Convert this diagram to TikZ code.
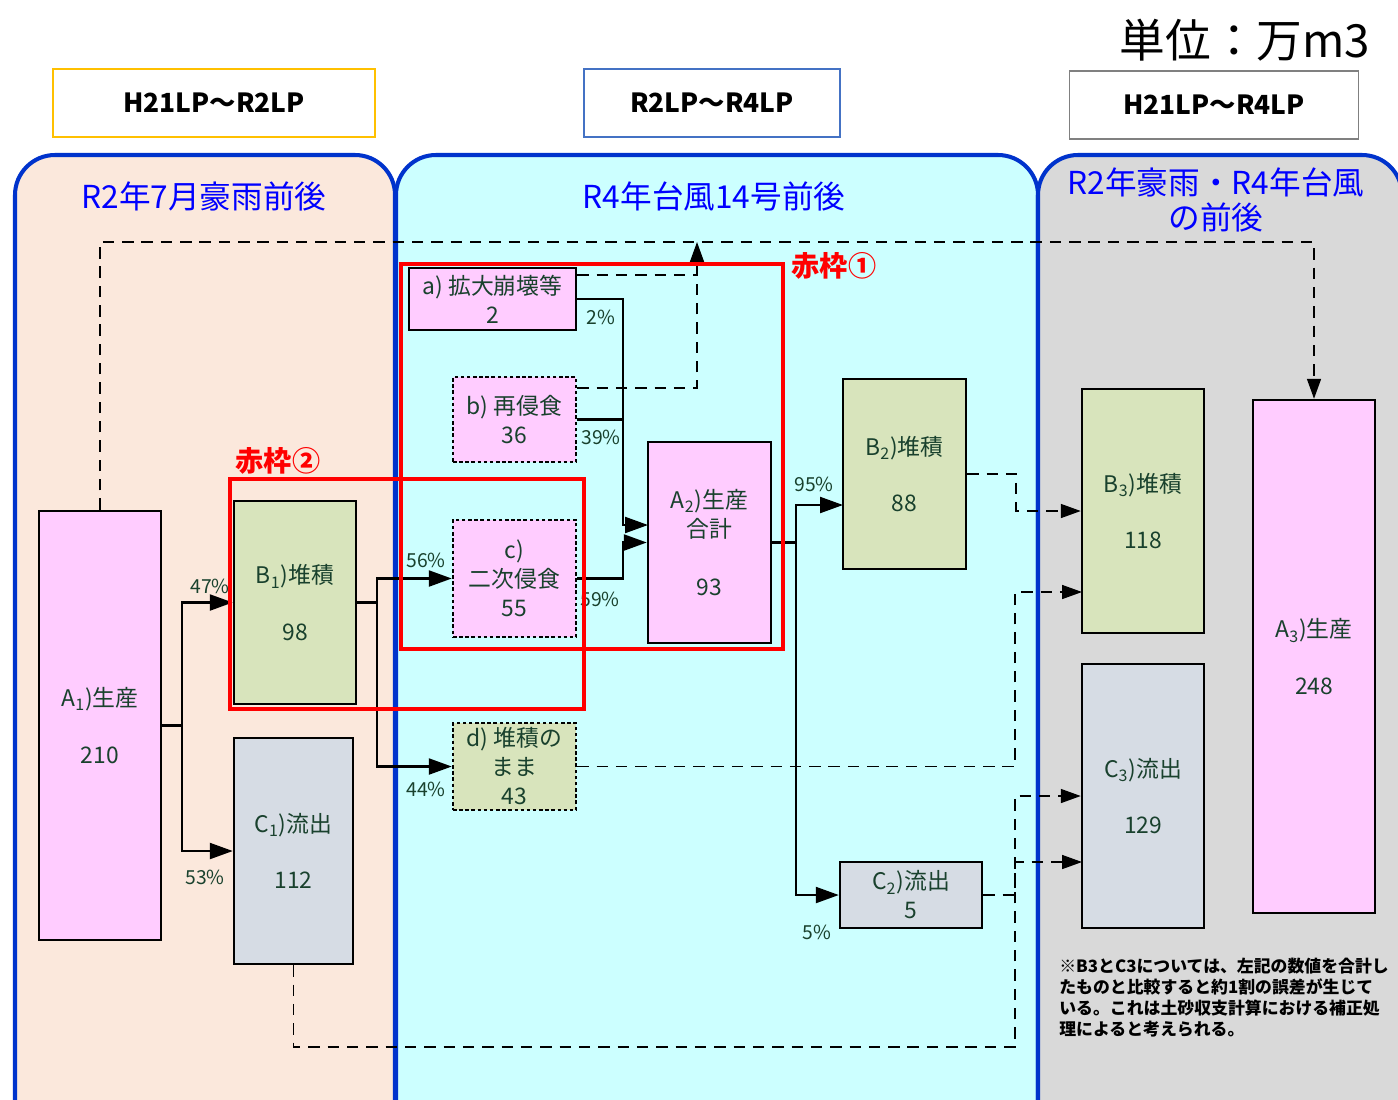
\documentclass[tikz,border=0pt]{standalone}
\usepackage{fontspec}
\setmainfont{Noto Sans CJK JP}
\usetikzlibrary{arrows.meta,calc}

\definecolor{peach}{RGB}{251,232,220}
\definecolor{aqua}{RGB}{204,255,255}
\definecolor{greyzone}{RGB}{217,217,217}
\definecolor{panelblue}{RGB}{0,51,204}
\definecolor{titleblue}{RGB}{0,0,255}
\definecolor{pinkbox}{RGB}{255,204,255}
\definecolor{greenbox}{RGB}{216,228,188}
\definecolor{bluebox}{RGB}{214,220,228}
\definecolor{txtgreen}{RGB}{25,65,45}
\definecolor{hdrorange}{RGB}{255,192,0}
\definecolor{hdrblue}{RGB}{68,114,196}
\definecolor{hdrgrey}{RGB}{128,128,128}

\begin{document}
\begin{tikzpicture}[%
    x=0.02cm, y=-0.02cm,
    wh/.style 2 args={minimum width=#1*0.02cm, minimum height=#2*0.02cm},
    panel/.style={draw=panelblue, line width=2.3pt, rounded corners=0.8cm},
    ptitle/.style={text=titleblue, font=\fontsize{18}{20}\selectfont, align=center},
    hdr/.style={draw, line width=1.1pt, fill=white, inner sep=0pt,
        font=\bfseries\fontsize{15}{18}\selectfont},
    tbox/.style={%
        draw,
        line width=1.4pt,
        inner sep=0pt,
        align=center,
        text=txtgreen,
        font=\fontsize{13}{32}\selectfont,
    },
    sbox/.style={tbox, font=\fontsize{13}{16.5}\selectfont},
    dotbox/.style={sbox, dash pattern=on 2pt off 1.5pt},
    pct/.style={text=txtgreen, inner sep=0pt, font=\fontsize{11}{12}\selectfont},
    flow/.style={draw, line width=1.3pt, -{Triangle[length=4.6mm,width=3.2mm]}},
    dflow/.style={draw, line width=0.9pt, dash pattern=on 6.5pt off 4.5pt,
        -{Triangle[length=4mm,width=2.8mm]}},
    dline/.style={draw, line width=0.9pt, dash pattern=on 6.5pt off 4.5pt},
    redframe/.style={draw=red, line width=2pt},
    redlabel/.style={text=red, font=\bfseries\fontsize{16}{18}\selectfont},
]
\useasboundingbox (0,0) rectangle (1398,1099);

% 背景
\begin{scope}
\clip (0,0) rectangle (1398,1099);
\fill[white] (0,0) rectangle (1398,1099);
\path[panel, fill=peach] (15,1130) -- (15,155) -- (395,155) -- (395,1130);
\path[panel, fill=aqua] (396,1130) -- (396,155) -- (1038,155) -- (1038,1130);
\path[panel, fill=greyzone] (1038,1130) -- (1038,155) -- (1402,155) -- (1402,1130);
\end{scope}

% 見出し
\node[hdr, draw=hdrorange, wh={322}{68}] (h1) at (214,103) {H21LP～R2LP};
\node[hdr, draw=hdrblue, wh={256}{68}] (h2) at (712,103) {R2LP～R4LP};
\node[hdr, draw=hdrgrey, wh={289}{68}] (h3) at (1214,105) {H21LP～R4LP};
\node[font=\fontsize{26}{28}\selectfont] (unit) at (1245,40) {単位：万m3};

\node[ptitle] (t1) at (204,196) {R2年7月豪雨前後};
\node[ptitle] (t2) at (714,196) {R4年台風14号前後};
\node[ptitle] (t3) at (1216,200) {R2年豪雨・R4年台風\\の前後};

% 箱
\node[tbox, fill=pinkbox, wh={122}{429}] (A1) at (100,725.5) {A\textsubscript{1})生産\\210};
\node[tbox, fill=greenbox, wh={122}{203}] (B1) at (295,602.5) {B\textsubscript{1})堆積\\98};
\node[tbox, fill=bluebox, wh={119}{226}] (C1) at (293.5,851) {C\textsubscript{1})流出\\112};

\node[sbox, fill=pinkbox, wh={167}{62}] (a) at (492.5,299) {a) 拡大崩壊等\\2};
\node[dotbox, fill=pinkbox, wh={123}{85}] (b) at (514.5,419.5) {b) 再侵食\\36};
\node[dotbox, fill=pinkbox, wh={123}{117}] (c) at (514.5,578.5) {c)\\二次侵食\\55};
\node[dotbox, fill=greenbox, wh={123}{87}] (d) at (514.5,766.5) {d) 堆積の\\まま\\43};

\node[sbox, fill=pinkbox, wh={123}{201}] (A2) at (709.5,542.5) {A\textsubscript{2})生産\\合計\\[17pt]93};
\node[tbox, fill=greenbox, wh={123}{190}] (B2) at (904.5,474) {B\textsubscript{2})堆積\\88};
\node[sbox, fill=bluebox, wh={142}{66}] (C2) at (911,895) {C\textsubscript{2})流出\\5};

\node[tbox, fill=greenbox, wh={122}{244}] (B3) at (1143,511) {B\textsubscript{3})堆積\\118};
\node[tbox, fill=bluebox, wh={122}{264}] (C3) at (1143,796) {C\textsubscript{3})流出\\129};
\node[tbox, fill=pinkbox, wh={122}{513}] (A3) at (1314,656.5) {A\textsubscript{3})生産\\248};

% 入口の点
\coordinate (topline) at (0,242);
\coordinate (ret) at (697,242);
\coordinate (A2in) at (648,525);
\coordinate (B2in) at (843,505);
\coordinate (B3in) at (1082,592);
\coordinate (C3in) at (1082,862);
\coordinate (dx) at (1015,0);
\coordinate (bot) at (1015,1047);

% 実線の流れ
\draw[flow] (A1.east) -- ++(20,0) |- (B1.west);
\draw[flow] (A1.east) -- ++(20,0) |- (C1.west);
\draw[flow] (B1.east) -- ++(20,0) |- (c.west);
\draw[flow] (B1.east) -- ++(20,0) |- (d.west);
\draw[flow] (a.east) -- ++(46,0) |- (A2in);
\draw[line width=1.3pt] (b.east) -- ++(46,0);
\draw[flow] (c.east) -- ++(46,0) |- (A2.west);
\draw[flow] (A2.east) -- ++(24,0) |- (B2in);
\draw[flow] (A2.east) -- ++(24,0) |- (C2.west);

% 破線の流れ
\draw[dflow] (A1.north) -- (A1.north |- topline) -| (A3.north);
\draw[dline] ($(a.north east)+(0,8)$) -| (ret);
\draw[dflow] ($(b.north east)+(0,12)$) -| (ret);
\draw[dflow] (B2.east) -- ++(49,0) |- (B3.west);
\draw[dflow] (d.east) -- (d.east -| dx) |- (B3in);
\draw[dflow] (C2.east) -- (C2.east -| dx) |- (C3.west);
\draw[dflow] (C1.south) |- (bot) |- (C3in);

% 割合
\node[pct] (p47) at (210,586) {47\%};
\node[pct] (p53) at (205,877) {53\%};
\node[pct] (p56) at (426,560) {56\%};
\node[pct] (p44) at (426,789) {44\%};
\node[pct] (p2) at (601,317) {2\%};
\node[pct] (p39) at (601,437) {39\%};
\node[pct] (p59) at (600,599) {59\%};
\node[pct] (p95) at (814,484) {95\%};
\node[pct] (p5) at (817,932) {5\%};

% 赤枠
\draw[redframe] (401,264) rectangle (783,649);
\node[redlabel] (r1) at (834,266) {赤枠①};
\draw[redframe] (230,479) rectangle (584,709);
\node[redlabel] (r2) at (278,461) {赤枠②};

% 注記
\node[anchor=north west, align=left, inner sep=0pt,
    font=\bfseries\fontsize{9.6}{11.8}\selectfont] (note) at (1059,958)
    {※B3とC3については、左記の数値を合計し\\たものと比較すると約1割の誤差が生じて\\いる。これは土砂収支計算における補正処\\理によると考えられる。};

\end{tikzpicture}
\end{document}
